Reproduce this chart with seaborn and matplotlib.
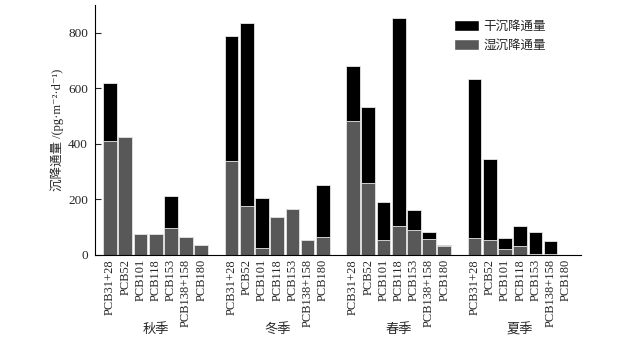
import matplotlib
matplotlib.use('Agg')
import pandas as pd
import matplotlib.pyplot as plt
import seaborn as sns
from matplotlib.patches import Patch

# 季节与化合物
seasons = ['秋季', '冬季', '春季', '夏季']
compounds = ['PCB31+28', 'PCB52', 'PCB101', 'PCB118', 'PCB153', 'PCB138+158', 'PCB180']

# 湿沉降通量 (pg·m-2·d-1)
wet_autumn = [412, 424, 75, 75, 98, 65, 35]
wet_winter = [340, 177, 23, 136, 164, 54, 65]
wet_spring = [481, 258, 55, 104, 91, 56, 32]
wet_summer = [62, 55, 21, 32, 2, 3, 0]

# 干沉降通量
dry_autumn = [207, 0, 0, 0, 114, 0, 0]
dry_winter = [448, 659, 181, 0, 0, 0, 186]
dry_spring = [201, 274, 137, 748, 69, 25, 3]
dry_summer = [571, 290, 39, 71, 79, 48, 0]

wet = {'秋季': wet_autumn, '冬季': wet_winter, '春季': wet_spring, '夏季': wet_summer}
dry = {'秋季': dry_autumn, '冬季': dry_winter, '春季': dry_spring, '夏季': dry_summer}

rows = []
order = []
for s in seasons:
    for c, w, d in zip(compounds, wet[s], dry[s]):
        rows.append({'key': f'{s}|{c}', 'wet': w, 'total': w + d})
        order.append(f'{s}|{c}')
    order.append(f'{s}|gap')  # 组间空位
df = pd.DataFrame(rows)

sns.set_style('ticks')
plt.rcParams['font.family'] = ['Liberation Serif', 'Noto Sans CJK SC', 'DejaVu Serif']
plt.rcParams['axes.unicode_minus'] = False

fig = plt.figure(figsize=(6.37, 3.43), dpi=100)
ax = fig.add_axes([0.149, 0.257, 0.763, 0.728])

dry_color = '#000000'
wet_color = '#585858'

sns.barplot(data=df, x='key', y='total', order=order, color=dry_color, saturation=1,
            width=0.9, errorbar=None, edgecolor='#e8e8e8', linewidth=0.6, ax=ax)
sns.barplot(data=df, x='key', y='wet', order=order, color=wet_color, saturation=1,
            width=0.9, errorbar=None, edgecolor='#e8e8e8', linewidth=0.6, ax=ax)

ax.set_xlim(-1, len(order) - 1)
ax.set_ylim(0, 900)
ax.set_yticks([0, 200, 400, 600, 800])
ax.set_xticks(range(len(order)))
ax.set_xticklabels(['' if k.endswith('|gap') else k.split('|')[1] for k in order],
                   rotation=90, fontsize=9)
ax.tick_params(axis='x', length=0, pad=3)
ax.tick_params(axis='y', direction='in', length=4, width=0.8, labelsize=9.5, pad=5)
ax.set_xlabel('')
ax.set_ylabel('沉降通量 /(pg·m⁻²·d⁻¹)', fontsize=9, labelpad=3)
for sp in ['top', 'right']:
    ax.spines[sp].set_visible(False)
for sp in ['left', 'bottom']:
    ax.spines[sp].set_linewidth(0.8)
    ax.spines[sp].set_color('black')

# 季节标签
for i, s in enumerate(seasons):
    center = order.index(f'{s}|{compounds[3]}')
    ax.text(center, -0.30, s, transform=ax.get_xaxis_transform(),
            ha='center', va='center', fontsize=9.5)

handles = [Patch(facecolor=dry_color), Patch(facecolor=wet_color)]
ax.legend(handles, ['干沉降通量', '湿沉降通量'], loc='upper left',
          bbox_to_anchor=(0.715, 0.985), frameon=False, fontsize=9,
          handlelength=2.0, handleheight=1.0, handletextpad=0.4, labelspacing=0.45)

fig.savefig('out.png', dpi=100)
